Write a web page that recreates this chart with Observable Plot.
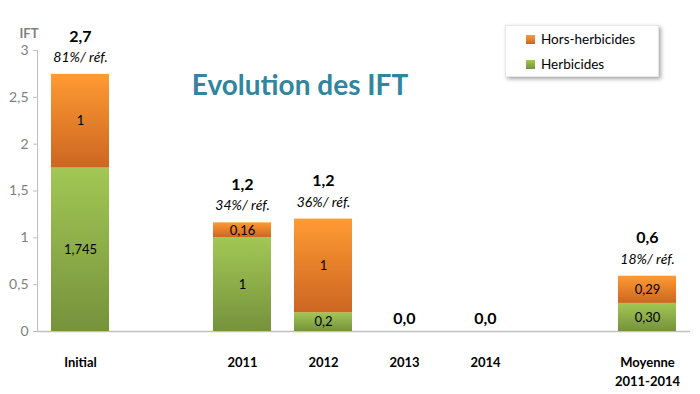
<!DOCTYPE html>
<html>
<head>
<meta charset="utf-8">
<script src="https://cdn.jsdelivr.net/npm/d3@7"></script>
<script src="https://cdn.jsdelivr.net/npm/@observablehq/plot@0.6"></script>
<style>
  html, body { margin: 0; padding: 0; background: #fff; }
  #wrap { position: relative; width: 700px; height: 394px; font-family: Lato, "Open Sans", sans-serif; }
  #title { position: absolute; left: 300px; top: 84px; transform: translate(-50%, -50%); font-size: 28px; font-weight: bold; color: #31859C; white-space: nowrap; }
  #legend { position: absolute; left: 505px; top: 25px; width: 154px; height: 52px; background: #fff; box-shadow: 2px 2px 4px rgba(0,0,0,0.35); border: 1px solid #e6e6e6; box-sizing: border-box; }
  .item { position: absolute; left: 20px; font-size: 13.5px; color: #000; display: flex; align-items: center; white-space: nowrap; }
  .sw { width: 9px; height: 9px; margin-right: 6px; display: inline-block; }
</style>
</head>
<body>
<div id="wrap">
  <div id="chart"></div>
  <div id="title">Evolution des IFT</div>
  <div id="legend"></div>
</div>
<script>
// ---- data ----
const categories = ["Initial", "2011", "2012", "2013", "2014", "Moyenne\n2011-2014"];
const slots = ["Initial", "gap1", "2011", "2012", "2013", "2014", "gap2", "Moyenne\n2011-2014"];
const herbicides = [1.745, 1, 0.2, 0, 0, 0.30];
const horsHerbicides = [1, 0.16, 1, 0, 0, 0.29];
const herbLabels = ["1,745", "1", "0,2", "", "", "0,30"];
const horsLabels = ["1", "0,16", "1", "", "", "0,29"];
const totalLabels = ["2,7", "1,2", "1,2", "0,0", "0,0", "0,6"];
const pctLabels = ["81%/ réf.", "34%/ réf.", "36%/ réf.", "", "", "18%/ réf."];
const yTicks = [0, 0.5, 1, 1.5, 2, 2.5, 3];
const seriesNames = ["Hors-herbicides", "Herbicides"];

const rows = categories.map((c, i) => ({
  cat: c,
  herb: herbicides[i],
  hors: horsHerbicides[i],
  total: herbicides[i] + horsHerbicides[i],
  herbLabel: herbLabels[i],
  horsLabel: horsLabels[i],
  totalLabel: totalLabels[i],
  pct: pctLabels[i]
}));
const nonZero = rows.filter(d => d.total > 0);
const zero = rows.filter(d => d.total === 0);
const fmt = d => String(d).replace(".", ",");

const chart = Plot.plot({
  width: 700,
  height: 394,
  marginLeft: 37,
  marginRight: 10,
  marginTop: 50,
  marginBottom: 63,
  style: { fontFamily: "Lato, 'Open Sans', sans-serif", background: "#fff" },
  x: { domain: slots, paddingInner: 0.29, paddingOuter: 0.145, axis: null },
  y: { domain: [0, 3], axis: null },
  marks: [
    Plot.frame({ anchor: "left", stroke: "#BFBFBF" }),
    Plot.ruleY([0], { stroke: "#BFBFBF", strokeWidth: 1.5 }),
    Plot.axisY({ ticks: yTicks, tickSize: 4, tickPadding: 5, tickFormat: fmt, stroke: "#BFBFBF", fill: "#7F7F7F", fontSize: 14, label: null }),
    Plot.axisX({ ticks: categories, tickSize: 0, tickPadding: 22, fontSize: 13, fontWeight: "bold", fill: "#000", lineHeight: 1.45, tickFormat: d => d, label: null }),
    Plot.text(["IFT"], { frameAnchor: "top-left", dx: -18, dy: -22, fontWeight: "bold", fontSize: 13, fill: "#7F7F7F" }),
    Plot.barY(nonZero, { x: "cat", y1: 0, y2: "herb", fill: "url(#gGreen)" }),
    Plot.barY(nonZero, { x: "cat", y1: "herb", y2: "total", fill: "url(#gOrange)" }),
    Plot.text(nonZero, { x: "cat", y: d => d.herb / 2, text: "herbLabel", fontSize: 13, fill: "#000" }),
    Plot.text(nonZero, { x: "cat", y: d => d.herb + d.hors / 2, text: "horsLabel", fontSize: 13, fill: "#000" }),
    Plot.text(nonZero, { x: "cat", y: "total", text: "totalLabel", dy: -38, fontSize: 16, fontWeight: "bold", fill: "#000" }),
    Plot.text(nonZero, { x: "cat", y: "total", text: "pct", dy: -17, fontSize: 14, fontStyle: "italic", fill: "#000" }),
    Plot.text(zero, { x: "cat", y: "total", text: "totalLabel", dy: -13, fontSize: 16, fontWeight: "bold", fill: "#000" })
  ]
});

// gradients
const svg = d3.select(chart.tagName.toLowerCase() === "svg" ? chart : chart.querySelector("svg"));
const defs = svg.insert("defs", ":first-child");
function grad(id, top, bottom) {
  const g = defs.append("linearGradient").attr("id", id).attr("x1", 0).attr("y1", 0).attr("x2", 0).attr("y2", 1);
  g.append("stop").attr("offset", "0%").attr("stop-color", top);
  g.append("stop").attr("offset", "100%").attr("stop-color", bottom);
}
grad("gOrange", "#FF9A33", "#CC6621");
grad("gGreen", "#A2C754", "#76923C");

document.getElementById("chart").appendChild(chart);

// legend
const legend = document.getElementById("legend");
const swatches = { "Hors-herbicides": "linear-gradient(#FF9A33, #CC6621)", "Herbicides": "linear-gradient(#A2C754, #76923C)" };
seriesNames.forEach((name, i) => {
  const it = document.createElement("div");
  it.className = "item";
  it.style.top = (i === 0 ? 5 : 30) + "px";
  const sw = document.createElement("span");
  sw.className = "sw";
  sw.style.background = swatches[name];
  it.appendChild(sw);
  it.appendChild(document.createTextNode(name));
  legend.appendChild(it);
});
</script>
</body>
</html>
